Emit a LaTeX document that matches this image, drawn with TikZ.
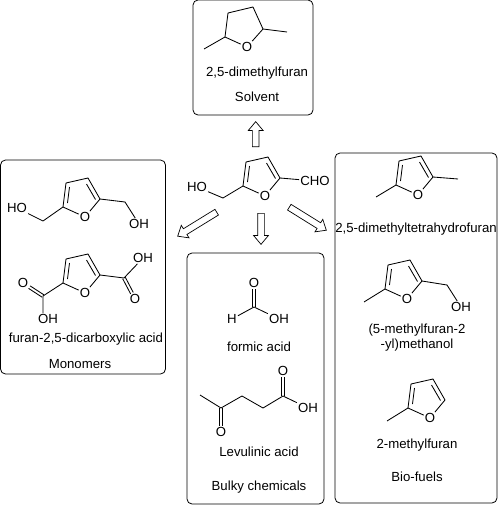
\documentclass[tikz,border=0pt]{standalone}
\usepackage{fontspec}
\setmainfont{Liberation Sans}
\usetikzlibrary{arrows.meta,positioning,shapes.arrows}

% ring of a furan, #1 = prefix, #2 = position of the oxygen
\newcommand{\furanring}[2]{
  \node[atom] (#1O) at (#2) {O};
  \begin{scope}[shift={(#2)}]
    \coordinate (#1c2) at (-22,-10);
    \coordinate (#1c3) at (-19,-34);
    \coordinate (#1c4) at (3,-39);
    \coordinate (#1c5) at (15,-18);
    \draw[bond] (#1O) -- (#1c2) -- (#1c3) -- (#1c4) -- (#1c5) -- (#1O);
    \draw[bond] (-15.5,-30) -- (-17.5,-14);
    \draw[bond] (1.5,-33) -- (10.5,-17.5);
  \end{scope}
}

\begin{document}
\begin{tikzpicture}[
    x=1pt, y=-1pt,
    bond/.style={line width=0.85pt, line join=round},
    atom/.style={font=\fontsize{13.2}{15}\selectfont, inner sep=1pt},
    label/.style={font=\fontsize{13.2}{15}\selectfont, inner sep=0pt},
    box/.style={rectangle, draw, rounded corners=5pt, line width=0.8pt, inner sep=0pt},
    hollow/.style={single arrow, draw, line width=0.7pt, anchor=tail, inner sep=3pt, minimum width=14pt, single arrow head extend=4pt, single arrow tip angle=80}
]
\useasboundingbox (0,0) rectangle (498,506);

% boxes
\node[box, minimum width=120pt, minimum height=115pt] (solventBox) at (253,57.5) {};
\node[box, minimum width=165pt, minimum height=214pt] (monomerBox) at (83,267) {};
\node[box, minimum width=137pt, minimum height=251pt] (bulkyBox) at (255.5,378.5) {};
\node[box, minimum width=162pt, minimum height=350pt] (fuelBox) at (416,328) {};

% tetrahydrofuran
\node[atom] (thfO) at (247,47) {O};
\coordinate (thfC2) at (225,37);
\coordinate (thfC3) at (228,13);
\coordinate (thfC4) at (253,7);
\coordinate (thfC5) at (263,29);
\coordinate (thfMe1) at (204,49);
\coordinate (thfMe2) at (287,32);
\draw[bond] (thfMe1) -- (thfC2) -- (thfC3) -- (thfC4) -- (thfC5) -- (thfMe2);
\draw[bond] (thfC2) -- (thfO) -- (thfC5);
\node[label] (thfName) at (257,73) {2,5-dimethylfuran};
\node[label] (solventName) at (257,97) {Solvent};

% central molecule
\furanring{hmf}{265,196}
\node[atom] (hmfHO) at (197,187) {HO};
\node[atom] (hmfCHO) at (315,181) {CHO};
\coordinate (hmfCH2) at (223,198);
\draw[bond] (hmfc2) -- (hmfCH2) -- (hmfHO);
\draw[bond] (hmfc5) -- (hmfCHO);

% monomers
\furanring{bhmf}{85,217}
\node[atom] (bhmfHO) at (17,208) {HO};
\node[atom] (bhmfOH) at (139,224) {OH};
\coordinate (bhmfCa) at (43,221);
\coordinate (bhmfCb) at (125,202);
\draw[bond] (bhmfc2) -- (bhmfCa) -- (bhmfHO);
\draw[bond] (bhmfc5) -- (bhmfCb) -- (bhmfOH);

\furanring{fdca}{85,293}
\node[atom] (fdcaO1) at (23,283) {O};
\node[atom] (fdcaOH1) at (48,319) {OH};
\node[atom] (fdcaO2) at (135,299) {O};
\node[atom] (fdcaOH2) at (143,258) {OH};
\coordinate (fdcaCa) at (43,296);
\coordinate (fdcaCb) at (124,278);
\draw[bond] (fdcac2) -- (fdcaCa) -- (fdcaOH1.north -| fdcaCa);
\draw[bond] (fdcac5) -- (fdcaCb) -- (fdcaOH2);
\draw[bond, transform canvas={shift={(0.8pt,1.25pt)}}] (fdcaCa) -- (fdcaO1);
\draw[bond, transform canvas={shift={(-0.8pt,-1.25pt)}}] (fdcaCa) -- (fdcaO1);
\draw[bond, transform canvas={shift={(1.33pt,0.7pt)}}] (fdcaCb) -- (fdcaO2);
\draw[bond, transform canvas={shift={(-1.33pt,-0.7pt)}}] (fdcaCb) -- (fdcaO2);
\node[label] (fdcaName) at (86,339) {furan-2,5-dicarboxylic acid};
\node[label] (monomerName) at (80,364) {Monomers};

% bulky chemicals
\node[atom] (faO) at (254,283) {O};
\node[atom] (faH) at (232,319) {H};
\node[atom] (faOH) at (279,319) {OH};
\coordinate (faC) at (254,307);
\draw[bond] (faH) -- (faC) -- (faOH);
\draw[bond, transform canvas={xshift=1.5pt}] (faC) -- (faO);
\draw[bond, transform canvas={xshift=-1.5pt}] (faC) -- (faO);
\node[label] (faName) at (259,347) {formic acid};

\node[atom] (laO1) at (221,432) {O};
\node[atom] (laO2) at (283,371) {O};
\node[atom] (laOH) at (308,408) {OH};
\coordinate (laMe) at (200,395);
\coordinate (laC1) at (221,408);
\coordinate (laC2) at (242,396);
\coordinate (laC3) at (263,408);
\coordinate (laC4) at (283,396);
\draw[bond] (laMe) -- (laC1) -- (laC2) -- (laC3) -- (laC4) -- (laOH);
\draw[bond, transform canvas={xshift=1.5pt}] (laC1) -- (laO1);
\draw[bond, transform canvas={xshift=-1.5pt}] (laC1) -- (laO1);
\draw[bond, transform canvas={xshift=1.5pt}] (laC4) -- (laO2);
\draw[bond, transform canvas={xshift=-1.5pt}] (laC4) -- (laO2);
\node[label] (laName) at (259,452) {Levulinic acid};
\node[label] (bulkyName) at (259,487) {Bulky chemicals};

% bio-fuels
\furanring{dmf}{418,195}
\coordinate (dmfMe1) at (376,197);
\coordinate (dmfMe2) at (458,179);
\draw[bond] (dmfc2) -- (dmfMe1);
\draw[bond] (dmfc5) -- (dmfMe2);
\node[label] (dmfName) at (416,229) {2,5-dimethyltetrahydrofuran};

\furanring{mfa}{407,299}
\node[atom] (mfaOH) at (461,307) {OH};
\coordinate (mfaMe) at (364,302);
\coordinate (mfaC) at (447,285);
\draw[bond] (mfac2) -- (mfaMe);
\draw[bond] (mfac5) -- (mfaC) -- (mfaOH);
\node[label] (mfaName1) at (417,330) {(5-methylfuran-2};
\node[label] (mfaName2) at (417,345) {-yl)methanol};

\furanring{mf}{430,418}
\coordinate (mfMe) at (387,421);
\draw[bond] (mfc2) -- (mfMe);
\node[label] (mfName) at (417,445) {2-methylfuran};
\node[label] (fuelName) at (417,477) {Bio-fuels};

% hollow arrows
\node[hollow, minimum height=25pt, rotate=90] (toSolvent) at (255.7,147) {};
\node[hollow, minimum height=45.8pt, rotate=211.6] (toMonomer) at (217,212) {};
\node[hollow, minimum height=31pt, rotate=-90] (toBulky) at (261,213) {};
\node[hollow, minimum height=43.6pt, rotate=-31.9] (toFuel) at (289,207) {};
\end{tikzpicture}
\end{document}
